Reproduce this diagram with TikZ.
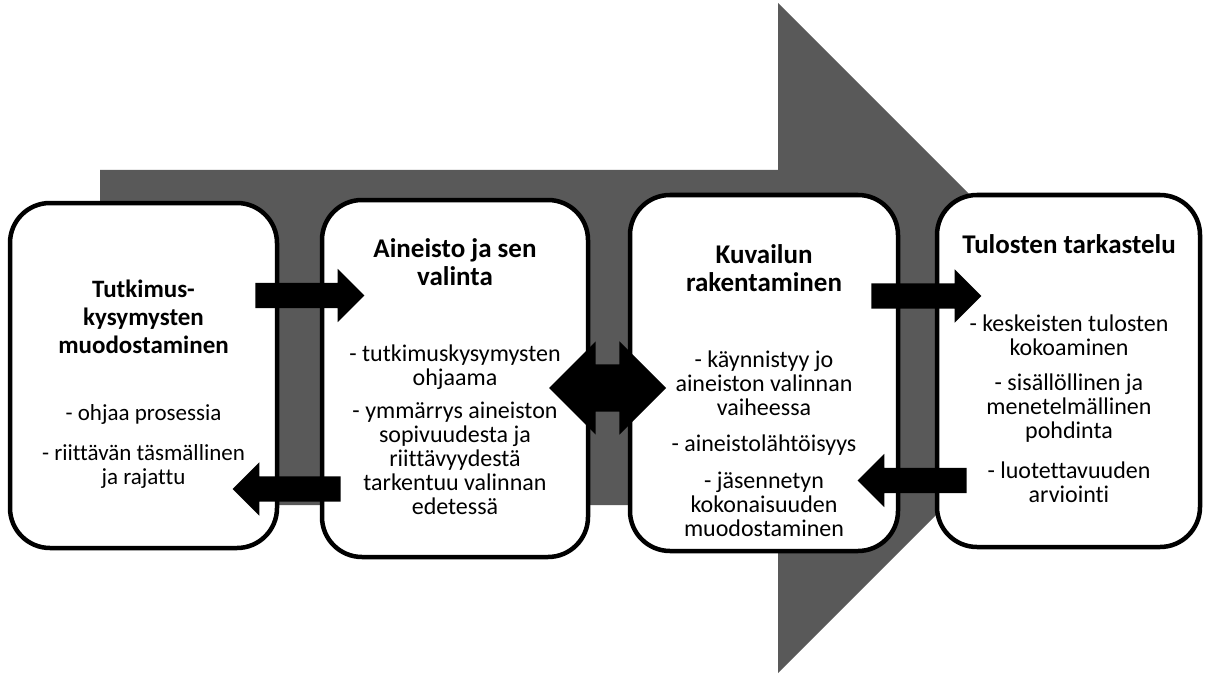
\documentclass[tikz,border=0pt]{standalone}
\usepackage{fontspec}
\setmainfont{Carlito}[Ligatures=NoCommon]
\usetikzlibrary{shapes.arrows}
\definecolor{arrowgray}{RGB}{89,89,89}
\begin{document}
\begin{tikzpicture}[x=1pt,y=-1pt,
  stagebox/.style={draw=black, fill=white, line width=4.5pt, rounded corners=40pt, inner sep=0pt},
  titletext/.style={anchor=north, inner sep=0pt, align=center, font=\bfseries\fontsize{#1}{28}\selectfont},
  titletext/.default=27,
  bodytext/.style={anchor=north, inner sep=0pt, align=center, font=\fontsize{#1}{24}\selectfont},
  bodytext/.default=24,
  rarrow/.style={single arrow, fill=black, draw=none, inner xsep=0pt, inner ysep=12.5pt, single arrow head extend=14pt, single arrow head indent=0pt, minimum width=0pt, outer sep=0pt},
  larrow/.style={rarrow, shape border rotate=180},
  darrow/.style={double arrow, fill=black, draw=none, inner xsep=0pt, inner ysep=23.5pt, double arrow head extend=23pt, double arrow head indent=0pt, minimum width=0pt, outer sep=0pt}
]
\useasboundingbox (0,0) rectangle (1208,674);
% big background arrow
\fill[arrowgray] (100,170) -- (778,170) -- (778,3) -- (1113,338) -- (778,673) -- (778,505) -- (100,505) -- cycle;
% boxes
\node[stagebox, minimum width=267pt, minimum height=345pt] (b1) at (143.5,375.5) {};
\node[stagebox, minimum width=266pt, minimum height=357pt] (b2) at (455,378.5) {};
\node[stagebox, minimum width=268pt, minimum height=356pt] (b3) at (764,373) {};
\node[stagebox, minimum width=263pt, minimum height=352pt] (b4) at (1068.5,371) {};
% texts
\node[titletext=25] (t1) at (143.5,280) {Tutkimus-\\kysymysten\\muodostaminen};
\node[bodytext=23] (d1) at (143.5,404) {- ohjaa prosessia\\[16pt]- riittävän täsmällinen\\ja rajattu};
\node[titletext] (t2) at (455,238) {Aineisto ja sen\\valinta};
\node[bodytext] (d2) at (455,345) {- tutkimuskysymysten\\ohjaama\\[9pt]- ymmärrys aineiston\\sopivuudesta ja\\riittävyydestä\\tarkentuu valinnan\\edetessä};
\node[titletext] (t3) at (764,244) {Kuvailun\\rakentaminen};
\node[bodytext] (d3) at (764,351) {- käynnistyy jo\\aineiston valinnan\\vaiheessa\\[12pt]- aineistolähtöisyys\\[13pt]- jäsennetyn\\kokonaisuuden\\muodostaminen};
\node[titletext] (t4) at (1069,234) {Tulosten tarkastelu};
\node[bodytext] (d4) at (1069,315) {- keskeisten tulosten\\kokoaminen\\[11pt]- sisällöllinen ja\\menetelmällinen\\pohdinta\\[16pt]- luotettavuuden\\arviointi};
% small block arrows
\node[rarrow, minimum height=109pt] (a12) at (303.5,295.5) {};
\node[larrow, minimum height=108pt] (a21) at (293,489) {};
\node[rarrow, minimum height=110pt] (a34) at (920,296) {};
\node[larrow, minimum height=109pt] (a43) at (918.5,480.5) {};
\node[darrow, minimum height=117pt] (a23) at (607.5,388) {};
\end{tikzpicture}
\end{document}
